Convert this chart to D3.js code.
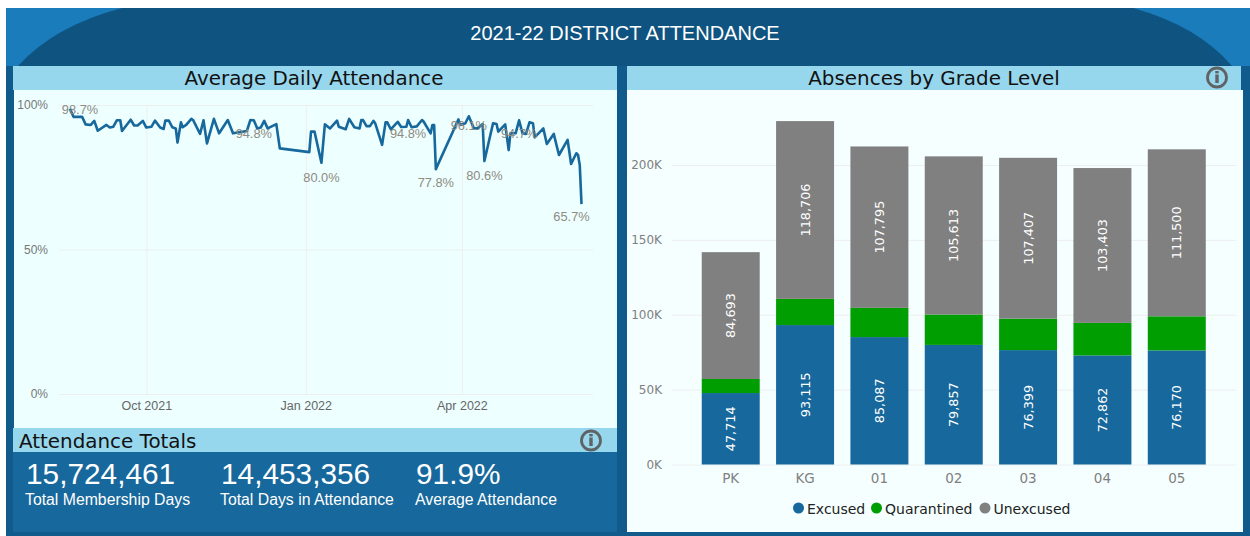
<!DOCTYPE html>
<html lang="en">
  <head>
    <meta charset="UTF-8" />
    <title>2021-22 District Attendance</title>
    <style>
      html, body { margin: 0; padding: 0; background: #fff; overflow: hidden; }
      svg { display: block; }
      .sans { font-family: "Liberation Sans", Arial, sans-serif; }
      .dejavu { font-family: "DejaVu Sans", Verdana, sans-serif; }
      .domain { display: none; }
    </style>
  </head>
  <body>
    <svg id="chart" width="1250" height="536"></svg>

    <script src="https://cdn.jsdelivr.net/npm/d3@7"></script>
    <script>

      // days since 1 Aug 2021
      var attendanceDays = [17, 19, 24, 26, 29, 31, 33, 38, 40, 42, 44, 46, 47, 52, 54, 56, 59, 61, 64, 66, 69, 71, 72, 74, 76, 78, 79, 81, 82, 84, 87, 88, 92, 94, 96, 100, 103, 108, 111, 119, 121, 123, 125, 127, 129, 131, 136, 138, 155, 156, 158, 162, 164, 167, 171, 172, 176, 178, 181, 184, 185, 186, 188, 190, 192, 193, 197, 199, 200, 202, 206, 208, 211, 212, 214, 217, 220, 221, 225, 226, 227, 228, 241, 242, 245, 247, 250, 252, 255, 256, 259, 261, 263, 264, 268, 270, 271, 274, 276, 278, 280, 282, 284, 285, 290, 292, 296, 299, 304, 306, 309, 310, 311, 312];
      var attendancePct = [98.7, 95.9, 95.9, 93.3, 93.1, 94.5, 91.1, 93.1, 92.2, 92.5, 94.7, 94.7, 91.0, 94.9, 92.9, 92.9, 94.5, 92.2, 92.5, 94.6, 92.2, 91.7, 94.6, 94.6, 92.3, 91.9, 87.0, 94.0, 92.3, 93.1, 95.2, 94.8, 90.0, 94.7, 86.7, 95.2, 90.2, 94.8, 90.2, 91.0, 94.8, 94.7, 91.9, 92.2, 94.5, 91.9, 93.4, 85.0, 83.7, 90.8, 90.8, 80.0, 93.3, 91.9, 94.6, 92.5, 91.6, 95.2, 92.3, 91.9, 94.8, 94.8, 92.7, 92.7, 94.5, 93.7, 86.2, 94.0, 94.0, 91.6, 94.2, 92.4, 92.5, 94.8, 92.3, 92.6, 94.8, 94.2, 90.2, 93.1, 93.1, 77.8, 95.0, 93.1, 93.7, 96.1, 91.9, 91.9, 93.4, 80.6, 88.5, 93.7, 93.4, 90.8, 93.3, 84.4, 90.2, 90.2, 94.7, 90.2, 90.0, 94.0, 93.7, 88.8, 91.9, 86.5, 90.0, 82.7, 87.9, 79.6, 83.3, 82.7, 79.2, 65.7];

      var labelDays = [17, 123, 162, 212, 228, 247, 256, 276, 312];
      var labelPct = [98.7, 94.8, 80.0, 94.8, 77.8, 96.1, 80.6, 94.7, 65.7];

      var attendanceTicks = ["2021-10-01", "2022-01-01", "2022-04-01"];
      var pctTicks = [0, 50, 100];

      var grades = ["PK", "KG", "01", "02", "03", "04", "05"];
      var excused = [47714, 93115, 85087, 79857, 76399, 72862, 76170];
      var quarantined = [9400, 17500, 19500, 20300, 21000, 21700, 22800];
      var unexcused = [84693, 118706, 107795, 105613, 107407, 103403, 111500];
      var absenceTicks = [0, 50000, 100000, 150000, 200000];

      var seriesNames = ["Excused", "Quarantined", "Unexcused"];
      var seriesColors = ["#17689c", "#009e00", "#808080"];

      var totalValues = ["15,724,461", "14,453,356", "91.9%"];
      var totalNames = ["Total Membership Days", "Total Days in Attendance", "Average Attendance"];

      var svg = d3.select("#chart");

      function box(x, y, w, h, fill) {
        return svg.append("rect").attr("x", x).attr("y", y).attr("width", w).attr("height", h).attr("fill", fill);
      }

      function infoIcon(cx, cy) {
        var g = svg.append("g").attr("transform", "translate(" + cx + "," + cy + ")");
        g.append("circle").attr("r", 9.5).attr("fill", "none").attr("stroke", "#5f6365").attr("stroke-width", 2.8);
        g.append("rect").attr("x", -1.7).attr("y", -3).attr("width", 3.4).attr("height", 8.5).attr("fill", "#5f6365");
        g.append("rect").attr("x", -1.7).attr("y", -6.5).attr("width", 3.4).attr("height", 2.4).attr("fill", "#5f6365");
      }

      // page background and banner
      box(6, 8, 1244, 528, "#115b8c");
      box(6, 8, 1244, 58, "#0f5480");
      svg.append("path").attr("d", "M6,8H122Q54,26 18,66H6Z").attr("fill", "#1a7cba");
      svg.append("path").attr("d", "M1250,8H1133Q1198,26 1232,66H1250Z").attr("fill", "#1a7cba");

      svg.append("text")
         .attr("class", "sans")
         .attr("x", 625).attr("y", 40)
         .attr("text-anchor", "middle")
         .attr("fill", "#fff")
         .attr("font-size", 20)
         .text("2021-22 DISTRICT ATTENDANCE");

      // panels
      box(14, 90, 603, 338, "#edffff");
      box(13, 66, 604, 24, "#97d7ed");
      box(13, 428, 604, 24, "#97d7ed");
      box(13, 452, 604, 80, "#17689c");
      box(627, 90, 616, 442, "#f5ffff");
      box(627, 66, 614, 24, "#97d7ed");

      function panelTitle(text, x, anchor) {
        svg.append("text")
           .attr("class", "dejavu")
           .attr("x", x).attr("y", anchor == "start" ? 447.5 : 85)
           .attr("text-anchor", anchor)
           .attr("fill", "#111")
           .attr("font-size", 19.9)
           .text(text);
      }
      panelTitle("Average Daily Attendance", 314, "middle");
      panelTitle("Absences by Grade Level", 934, "middle");
      panelTitle("Attendance Totals", 19, "start");

      infoIcon(1217, 77.5);
      infoIcon(591, 440.5);

      // line chart
      var start = new Date(2021, 7, 1);
      var dates = attendanceDays.map(function(d) { return d3.timeDay.offset(start, d); });

      var xScale = d3.scaleTime()
                     .domain([d3.timeDay.offset(start, 17), d3.timeDay.offset(start, 312)])
                     .range([70, 581.5]);

      var yScale = d3.scaleLinear()
                     .domain([0, 100])
                     .range([394, 105]);

      var xAxis = d3.axisBottom(xScale)
                    .tickValues(attendanceTicks.map(function(d) { return d3.timeParse("%Y-%m-%d")(d); }))
                    .tickFormat(d3.timeFormat("%b %Y"))
                    .tickSize(-289)
                    .tickPadding(7);

      var yAxis = d3.axisLeft(yScale)
                    .tickValues(pctTicks)
                    .tickFormat(function(d) { return d + "%"; })
                    .tickSize(-534)
                    .tickPadding(11);

      var xg = svg.append("g").attr("class", "sans").attr("transform", "translate(0,394)").call(xAxis);
      xg.selectAll("line").attr("stroke", "#eeeeee");
      xg.selectAll("text").attr("fill", "#666").attr("font-size", 12.5).attr("font-family", "Liberation Sans");

      var yg = svg.append("g").attr("class", "sans").attr("transform", "translate(59,0)").call(yAxis);
      yg.selectAll("line").attr("stroke", "#eeeeee");
      yg.selectAll("text").attr("fill", "#777").attr("font-size", 12).attr("font-family", "Liberation Sans");

      var line = d3.line()
                   .x(function(d, i) { return xScale(dates[i]); })
                   .y(function(d) { return yScale(d); });

      svg.append("path")
         .datum(attendancePct)
         .attr("d", line)
         .attr("fill", "none")
         .attr("stroke", "#17689c")
         .attr("stroke-width", 2.6)
         .attr("stroke-linejoin", "round");

      // nudges so the labels land where the report put them
      var labelDx = [10, 0, 0, 0, 0, 0, 0, 0, -10];
      var labelDy = [5, 18, 19, 18, 18, 14, 19, 18, 17];

      svg.append("g").selectAll("text")
         .data(labelPct)
         .join("text")
         .attr("class", "sans")
         .attr("x", function(d, i) { return xScale(d3.timeDay.offset(start, labelDays[i])) + labelDx[i]; })
         .attr("y", function(d, i) { return yScale(d) + labelDy[i]; })
         .attr("text-anchor", "middle")
         .attr("fill", "#8f8a82")
         .attr("font-size", 12.8)
         .text(function(d) { return d.toFixed(1) + "%"; });

      // totals
      var totalX = [26, 221, 416];
      svg.append("g").selectAll("text")
         .data(totalValues)
         .join("text")
         .attr("class", "sans")
         .attr("x", function(d, i) { return totalX[i]; })
         .attr("y", 484)
         .attr("fill", "#fff")
         .attr("font-size", 29.8)
         .text(function(d) { return d; });

      svg.append("g").selectAll("text")
         .data(totalNames)
         .join("text")
         .attr("class", "sans")
         .attr("x", function(d, i) { return totalX[i] - 1; })
         .attr("y", 505)
         .attr("fill", "#fff")
         .attr("font-size", 15.8)
         .text(function(d) { return d; });

      // stacked bars
      var rows = grades.map(function(g, i) {
        return { grade: g, Excused: excused[i], Quarantined: quarantined[i], Unexcused: unexcused[i] };
      });

      var barX = d3.scaleBand()
                   .domain(grades)
                   .range([672, 1235.5])
                   .paddingInner(0.22)
                   .paddingOuter(0.4);

      var barY = d3.scaleLinear()
                   .domain([0, 200000])
                   .range([464.5, 165]);

      var barColor = d3.scaleOrdinal().domain(seriesNames).range(seriesColors);

      var barYAxis = d3.axisLeft(barY)
                       .tickValues(absenceTicks)
                       .tickFormat(function(d) { return (d / 1000) + "K"; })
                       .tickSize(-564)
                       .tickPadding(10);

      var barXAxis = d3.axisBottom(barX).tickSize(0).tickPadding(9);

      var byg = svg.append("g").attr("class", "dejavu").attr("transform", "translate(672,0)").call(barYAxis);
      byg.selectAll("line").attr("stroke", "#eeeeee");
      byg.selectAll("text").attr("fill", "#808080").attr("font-size", 12).attr("font-family", "DejaVu Sans");

      var bxg = svg.append("g").attr("class", "dejavu").attr("transform", "translate(0,464.5)").call(barXAxis);
      bxg.selectAll("text").attr("fill", "#808080").attr("font-size", 13.5).attr("font-family", "DejaVu Sans");

      var stacked = d3.stack().keys(seriesNames)(rows);

      var layers = svg.append("g").selectAll("g")
                      .data(stacked)
                      .join("g")
                      .attr("fill", function(d) { return barColor(d.key); });

      layers.selectAll("rect")
            .data(function(d) { return d; })
            .join("rect")
            .attr("x", function(d) { return barX(d.data.grade); })
            .attr("y", function(d) { return barY(d[1]); })
            .attr("width", barX.bandwidth())
            .attr("height", function(d) { return barY(d[0]) - barY(d[1]); });

      // quarantined has no labels in the report
      layers.filter(function(d) { return d.key != "Quarantined"; })
            .selectAll("text")
            .data(function(d) { return d; })
            .join("text")
            .attr("class", "dejavu")
            .attr("transform", function(d) {
              var cx = barX(d.data.grade) + barX.bandwidth() / 2;
              var cy = (barY(d[0]) + barY(d[1])) / 2;
              return "translate(" + cx + "," + cy + ") rotate(-90)";
            })
            .attr("text-anchor", "middle")
            .attr("dy", "0.36em")
            .attr("fill", "#fff")
            .attr("font-size", 12.8)
            .text(function(d) { return d3.format(",")(d[1] - d[0]); });

      // legend
      var legendX = [798.5, 876.5, 985];
      var legend = svg.append("g").selectAll("g")
                      .data(seriesNames)
                      .join("g")
                      .attr("transform", function(d, i) { return "translate(" + legendX[i] + ",508)"; });

      legend.append("circle").attr("r", 5.5).attr("fill", function(d) { return barColor(d); });
      legend.append("text")
            .attr("class", "dejavu")
            .attr("x", 8.5).attr("y", 5.5)
            .attr("fill", "#222")
            .attr("font-size", 14)
            .text(function(d) { return d; });

    </script>
  </body>
</html>
